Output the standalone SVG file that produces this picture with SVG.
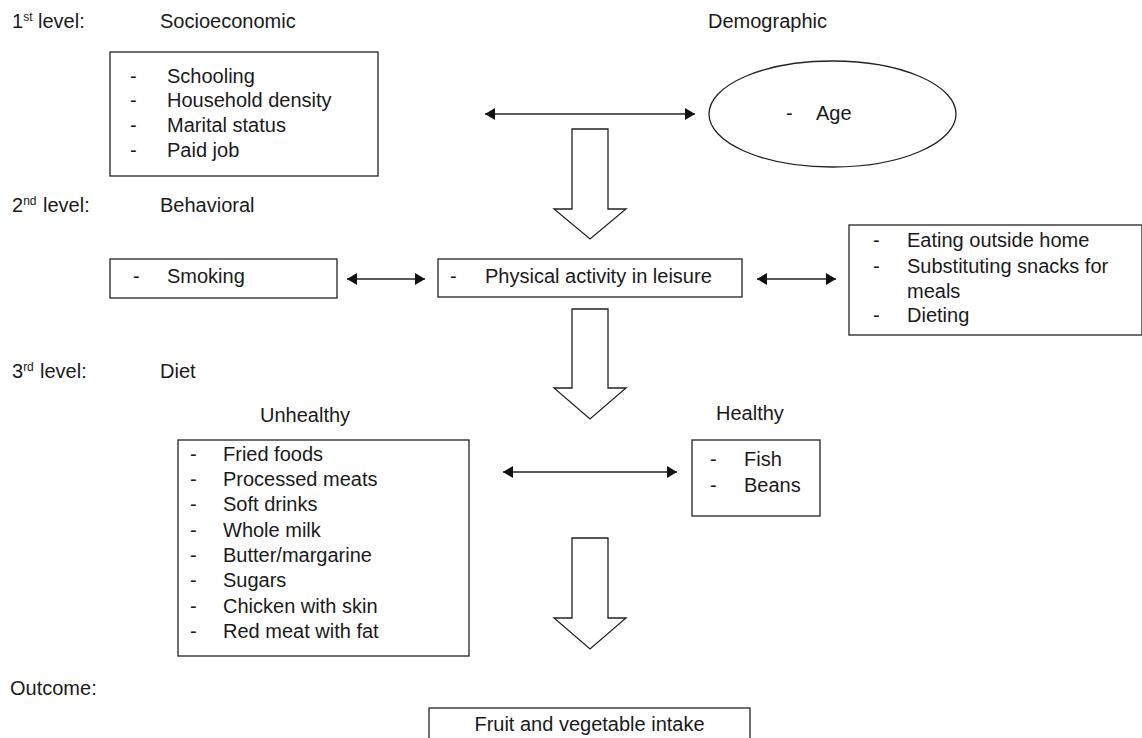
<svg xmlns="http://www.w3.org/2000/svg" width="1142" height="738" viewBox="0 0 1142 738">
<style>
text{font-family:"Liberation Sans",Arial,sans-serif;font-size:20px;fill:#1a1a1a}
.sup{font-size:12px}
.box{fill:#fff;stroke:#222;stroke-width:1.3}
.line{fill:none;stroke:#222;stroke-width:1.3}
.block{fill:#fff;stroke:#222;stroke-width:1.3;stroke-linejoin:miter}
</style>
<defs>
<marker id="ah" viewBox="0 0 10 12" refX="10" refY="6" markerWidth="10" markerHeight="12" markerUnits="userSpaceOnUse" orient="auto-start-reverse">
<path d="M0,0 L10,6 L0,12 Z" fill="#111"/>
</marker>
</defs>
<rect width="1142" height="738" fill="#fff"/>

<g id="labels">
<text x="12" y="28">1<tspan class="sup" dy="-7">st</tspan><tspan dy="7" x="38">level:</tspan></text>
<text x="160" y="28">Socioeconomic</text>
<text x="708" y="28">Demographic</text>
<text x="12" y="212">2<tspan class="sup" dy="-7">nd</tspan><tspan dy="7" x="43">level:</tspan></text>
<text x="160" y="212">Behavioral</text>
<text x="12" y="378">3<tspan class="sup" dy="-7">rd</tspan><tspan dy="7" x="40">level:</tspan></text>
<text x="160" y="378">Diet</text>
<text x="260" y="422">Unhealthy</text>
<text x="716" y="420">Healthy</text>
<text x="10" y="695">Outcome:</text>
</g>

<g id="socioeconomic">
<rect class="box" x="110" y="52" width="268" height="124"/>
<text x="130" y="83">-</text><text x="167" y="83">Schooling</text>
<text x="130" y="107">-</text><text x="167" y="107">Household density</text>
<text x="130" y="132">-</text><text x="167" y="132">Marital status</text>
<text x="130" y="157">-</text><text x="167" y="157">Paid job</text>
</g>

<g id="demographic">
<ellipse class="box" cx="832.5" cy="114" rx="123.5" ry="53"/>
<text x="786" y="120">-</text><text x="816" y="120">Age</text>
</g>

<g id="smoking">
<rect class="box" x="110" y="259" width="227" height="39"/>
<text x="133" y="283">-</text><text x="167" y="283">Smoking</text>
</g>

<g id="physical">
<rect class="box" x="438" y="259" width="304" height="38"/>
<text x="450" y="283">-</text><text x="485" y="283">Physical activity in leisure</text>
</g>

<g id="eating">
<rect class="box" x="849" y="225" width="293" height="110"/>
<text x="873" y="247">-</text><text x="907" y="247">Eating outside home</text>
<text x="873" y="273">-</text><text x="907" y="273">Substituting snacks for</text>
<text x="907" y="298">meals</text>
<text x="873" y="322">-</text><text x="907" y="322">Dieting</text>
</g>

<g id="unhealthy">
<rect class="box" x="178" y="440" width="291" height="216"/>
<text x="190" y="461">-</text><text x="223" y="461">Fried foods</text>
<text x="190" y="486">-</text><text x="223" y="486">Processed meats</text>
<text x="190" y="511">-</text><text x="223" y="511">Soft drinks</text>
<text x="190" y="537">-</text><text x="223" y="537">Whole milk</text>
<text x="190" y="562">-</text><text x="223" y="562">Butter/margarine</text>
<text x="190" y="587">-</text><text x="223" y="587">Sugars</text>
<text x="190" y="613">-</text><text x="223" y="613">Chicken with skin</text>
<text x="190" y="638">-</text><text x="223" y="638">Red meat with fat</text>
</g>

<g id="healthy">
<rect class="box" x="692" y="440" width="128" height="76"/>
<text x="710" y="466">-</text><text x="744" y="466">Fish</text>
<text x="710" y="492">-</text><text x="744" y="492">Beans</text>
</g>

<g id="outcome">
<rect class="box" x="429" y="708" width="321" height="40"/>
<text x="589.5" y="731" text-anchor="middle">Fruit and vegetable intake</text>
</g>

<g id="connectors">
<line class="line" x1="485" y1="114" x2="695" y2="114" marker-start="url(#ah)" marker-end="url(#ah)"/>
<line class="line" x1="347" y1="279" x2="425" y2="279" marker-start="url(#ah)" marker-end="url(#ah)"/>
<line class="line" x1="757" y1="279" x2="836" y2="279" marker-start="url(#ah)" marker-end="url(#ah)"/>
<line class="line" x1="503" y1="472" x2="677" y2="472" marker-start="url(#ah)" marker-end="url(#ah)"/>
<polygon class="block" points="572,129 608,129 608,209 626,209 590,239 554,209 572,209"/>
<polygon class="block" points="572,309 608,309 608,388 626,388 590,419 554,388 572,388"/>
<polygon class="block" points="572,538 608,538 608,618 626,618 590,649 554,618 572,618"/>
</g>
</svg>
